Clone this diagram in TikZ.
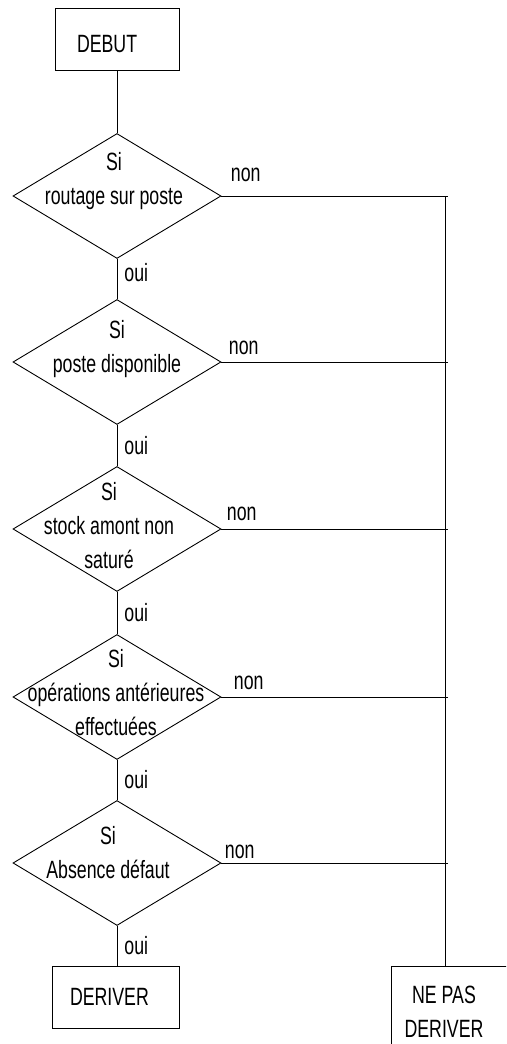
\documentclass[tikz,border=0pt]{standalone}
\usepackage{fontspec}
\setmainfont{Liberation Sans}[FakeStretch=0.71]
\usetikzlibrary{shapes.geometric}

\begin{document}
\begin{tikzpicture}[x=1pt, y=-1pt, line width=0.9pt,
  every node/.style={font=\fontsize{25}{34}\selectfont, inner sep=0pt},
  box/.style={draw, rectangle, minimum height=62pt, align=left},
  test/.style={draw, diamond, minimum width=208pt, minimum height=125pt}]
  \useasboundingbox (0,0) rectangle (506,1044);
  \clip (0,0) rectangle (506,1044);

  \node[box, text width=80pt, inner xsep=22pt, text height=26pt, text depth=0pt] (debut) at (117,39) {DEBUT};

  \node[test] (d1) at (117,196) {};
  \node[align=center] (t1) at (114,181) {Si\\routage sur poste};
  \node[test] (d2) at (117,362) {};
  \node[align=center] (t2) at (117,349) {Si\\poste disponible};
  \node[test] (d3) at (117,529) {};
  \node[align=center] (t3) at (109,526) {Si\\stock amont non\\saturé};
  \node[test] (d4) at (117,697) {};
  \node[align=center] (t4) at (116,693) {Si\\opérations antérieures\\effectuées};
  \node[test] (d5) at (117,863) {};
  \node[align=center] (t5) at (108,853) {Si\\Absence défaut};

  \node[box, text width=91pt, inner xsep=18pt] (deriver) at (115.5,997) {DERIVER};
  \node[draw, minimum width=124pt, minimum height=100pt, anchor=north west] (nepas) at (391,966) {};
  \node[align=center] (nepastxt) at (444,1012) {NE PAS\\DERIVER};

  \coordinate (b1) at (448,196);
  \coordinate (b2) at (448,362);
  \coordinate (b3) at (448,529);
  \coordinate (b4) at (448,697);
  \coordinate (b5) at (448,863);
  \coordinate (bus) at (445,196);

  \draw (debut) -- (d1);
  \draw (d1) -- node[pos=0.35, right=7pt] {oui} (d2);
  \draw (d2) -- node[right=7pt] {oui} (d3);
  \draw (d3) -- node[right=7pt] {oui} (d4);
  \draw (d4) -- node[right=7pt] {oui} (d5);
  \draw (d5.south) -- node[right=7pt] {oui} (d5.south |- deriver.north);

  \draw (d1.east) -- node[pos=0, anchor=south west, xshift=9pt, yshift=14pt] {non} (b1);
  \draw (d2.east) -- node[pos=0, anchor=south west, xshift=7pt, yshift=7pt] {non} (b2);
  \draw (d3.east) -- node[pos=0, anchor=south west, xshift=5pt, yshift=8pt] {non} (b3);
  \draw (d4.east) -- node[pos=0, anchor=south west, xshift=12pt, yshift=7pt] {non} (b4);
  \draw (d5.east) -- node[pos=0, anchor=south west, xshift=3pt, yshift=4pt] {non} (b5);
  \draw (bus) -- (bus |- nepas.north);
\end{tikzpicture}
\end{document}
